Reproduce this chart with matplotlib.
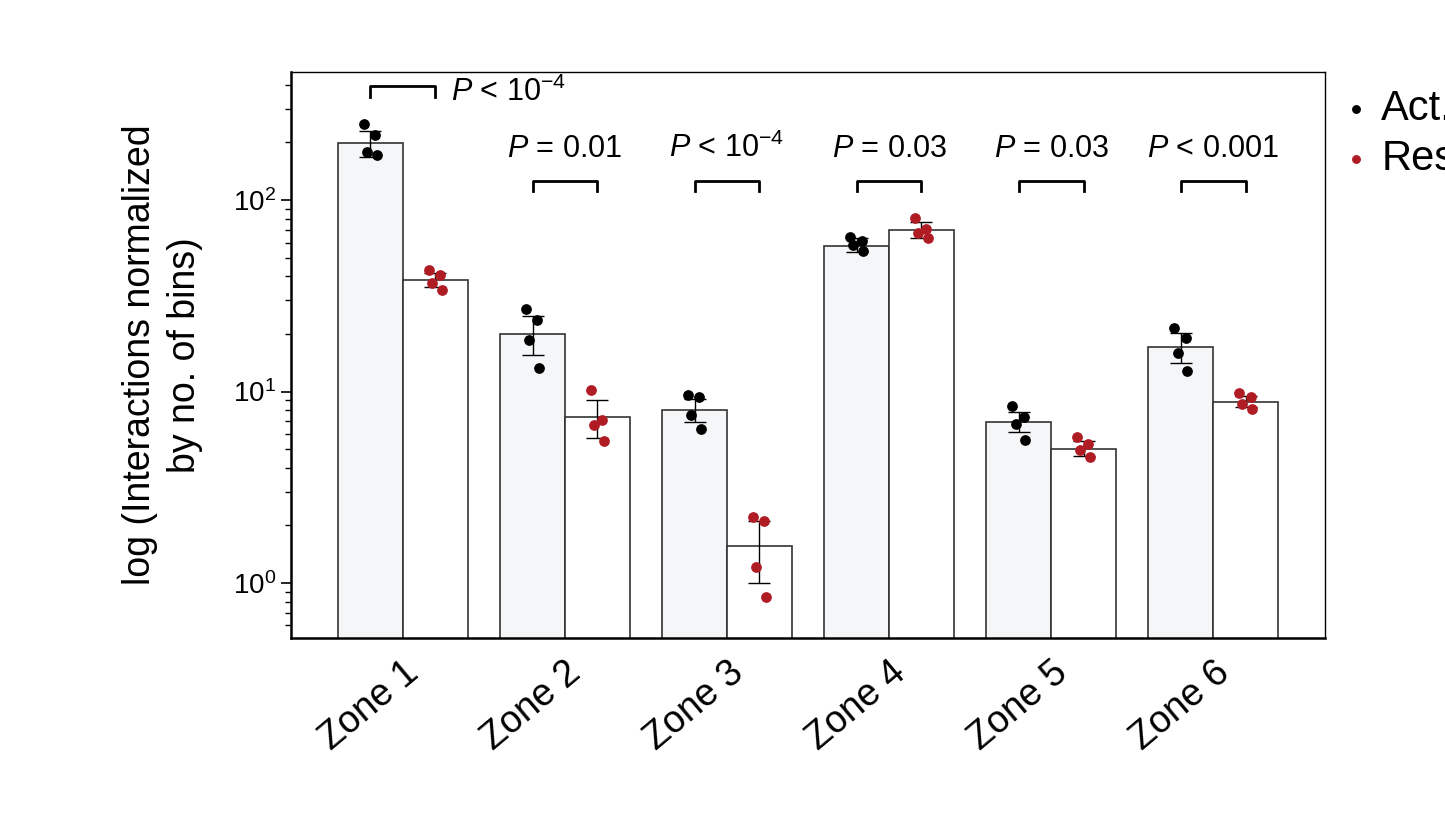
import matplotlib
matplotlib.use("Agg")
import matplotlib.pyplot as plt
import numpy as np

plt.rcParams['font.family'] = 'Liberation Sans'
plt.rcParams['mathtext.fontset'] = 'custom'
plt.rcParams['mathtext.rm'] = 'Liberation Sans'
plt.rcParams['mathtext.it'] = 'Liberation Sans:italic'

zones = ["Zone 1", "Zone 2", "Zone 3", "Zone 4", "Zone 5", "Zone 6"]
act_mean = [198, 20, 8.0, 57.5, 6.93, 17.1]
act_hi = [229, 24.8, 9.1, 63, 7.8, 20.2]
act_lo = [168, 15.5, 6.9, 53.5, 6.15, 14.1]
rest_mean = [38.2, 7.36, 1.56, 69.7, 5.0, 8.8]
rest_hi = [41.7, 9.0, 2.1, 77, 5.5, 9.5]
rest_lo = [35.1, 5.7, 1.0, 63, 4.6, 8.3]
act_pts = [[249, 218, 178, 172], [27, 23.6, 18.6, 13.3], [9.6, 9.4, 7.5, 6.4],
           [64, 61, 58.5, 54], [8.4, 7.4, 6.8, 5.6], [21.5, 19.0, 15.9, 12.8]]
rest_pts = [[43, 40.5, 36.9, 33.9], [10.2, 7.1, 6.7, 5.5], [2.2, 2.1, 1.21, 0.85],
            [80.5, 71, 67, 63], [5.8, 5.3, 4.95, 4.55], [9.8, 9.35, 8.6, 8.1]]
pvals = [r"$\it{P}$ < 10$^{-4}$", r"$\it{P}$ = 0.01", r"$\it{P}$ < 10$^{-4}$",
         r"$\it{P}$ = 0.03", r"$\it{P}$ = 0.03", r"$\it{P}$ < 0.001"]
jit = [-0.04, 0.03, -0.02, 0.04]

fig = plt.figure(figsize=(14.45, 8.14), dpi=100)
ax = fig.add_axes([0.2014, 0.2162, 0.917 - 0.2014, 0.9115 - 0.2162])
x = np.arange(len(zones))
w = 0.4
red = '#b01c24'
ax.bar(x - w/2, act_mean, w, color='#f5f6f8', edgecolor='#333333', linewidth=1.2, zorder=1)
ax.bar(x + w/2, rest_mean, w, color='white', edgecolor='#333333', linewidth=1.2, zorder=1)
for i in range(len(zones)):
    for xc, m, hi, lo, pts, c in [(x[i]-w/2, act_mean[i], act_hi[i], act_lo[i], act_pts[i], 'black'),
                                  (x[i]+w/2, rest_mean[i], rest_hi[i], rest_lo[i], rest_pts[i], red)]:
        ax.errorbar([xc], [m], yerr=[[m - lo], [hi - m]], fmt='none', ecolor='black',
                    elinewidth=1, capsize=8, zorder=2)
        ax.scatter(xc + np.array(jit), pts, s=45, color=c, zorder=3)
    if i == 0:
        y0, y1 = 345, 394
    else:
        y0, y1 = 111, 126
    ax.plot([x[i]-w/2, x[i]-w/2, x[i]+w/2, x[i]+w/2], [y0, y1, y1, y0], color='black', lw=2)
    if i == 0:
        ax.text(x[i]+w/2+0.1, y1*0.93, pvals[i], fontsize=22, ha='left', va='center')
    else:
        ax.text(x[i], y1*1.22, pvals[i], fontsize=22, ha='center', va='bottom')

ax.set_yscale('log')
ax.set_ylim(0.516, 466)
ax.set_xlim(-0.69, 5.69)
ax.set_xticks(x)
ax.set_xticklabels(zones, rotation=40, ha='right', rotation_mode='anchor', fontsize=27)
ax.set_yticks([1, 10, 100])
ax.tick_params(axis='y', which='major', labelsize=20, length=7, width=1.2)
ax.tick_params(axis='y', which='minor', length=4, width=1)
ax.tick_params(axis='x', length=0, pad=12)
ax.set_ylabel("log (Interactions normalized\nby no. of bins)", fontsize=27, linespacing=1.3,
              labelpad=22)
for s in ['left', 'bottom']:
    ax.spines[s].set_linewidth(1.8)
for s in ['top', 'right']:
    ax.spines[s].set_linewidth(1.0)

h1 = ax.scatter([], [], s=45, color='black')
h2 = ax.scatter([], [], s=45, color=red)
ax.legend([h1, h2], ["Act.", "Rest"], loc='upper left', bbox_to_anchor=(0.99, 1.0),
          frameon=False, fontsize=30, handletextpad=0.0, borderaxespad=0.0, labelspacing=0.25,
          markerscale=0.8, handlelength=1.2)
fig.savefig("out.png", dpi=100)
